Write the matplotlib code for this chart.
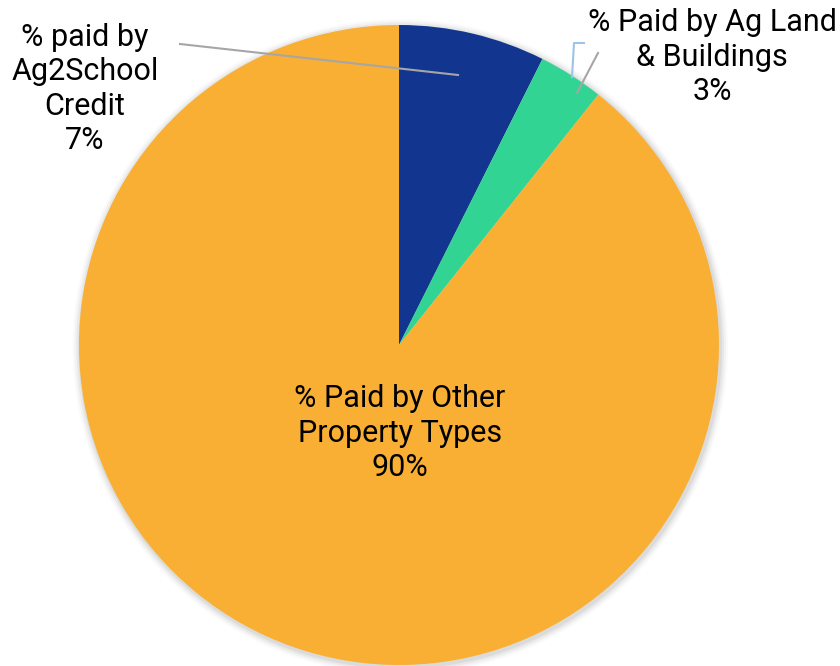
import matplotlib
matplotlib.use("Agg")
import matplotlib.pyplot as plt

categories = ["% paid by\nAg2School\nCredit", "% Paid by Ag Land\n& Buildings", "% Paid by Other\nProperty Types"]
values = [7.4, 3.3, 89.3]
pct_labels = ["7%", "3%", "90%"]
colors = ["#12368F", "#31D492", "#F9AF34"]

plt.rcParams['font.family'] = ['Roboto', 'DejaVu Sans']

fig = plt.figure(figsize=(8.4, 6.66), dpi=100)
W, H = 840, 666
cx, cy, R = 399, 345, 320
ax = fig.add_axes([(cx - R) / W, (H - cy - R) / H, 2 * R / W, 2 * R / H])

wedges, _ = ax.pie(values, colors=colors, startangle=90, counterclock=False,
                   radius=1, wedgeprops=dict(linewidth=0))
for w in wedges:
    w.set_zorder(1)

ax.set_xlim(-1, 1)
ax.set_ylim(-1, 1)
ax.set_aspect('equal')
ax.axis('off')

# soft shadow
for i, a in enumerate([0.05, 0.04, 0.03, 0.02]):
    c = plt.Circle((0.004, -0.006), 1 + 0.006 * (i + 1), color='black', alpha=a, lw=0,
                   zorder=0, clip_on=False)
    ax.add_patch(c)

def d(px, py):
    return ((px - cx) / R, (cy - py) / R)

fs = 22
ls = 1.22
x, y = d(85, 89)
ax.text(x, y, categories[0] + "\n" + pct_labels[0], ha='center', va='center', fontsize=fs,
        linespacing=ls, clip_on=False)
x, y = d(712, 57)
ax.text(x, y, categories[1] + "\n" + pct_labels[1], ha='center', va='center', fontsize=fs,
        linespacing=ls, clip_on=False)
x, y = d(400, 433)
ax.text(x, y, categories[2] + "\n" + pct_labels[2], ha='center', va='center', fontsize=fs,
        linespacing=ls, clip_on=False)

# leader lines
p1, p2 = d(180, 44), d(458, 75)
ax.plot([p1[0], p2[0]], [p1[1], p2[1]], color='#A6A6A6', lw=1.5, clip_on=False, zorder=3)
p1, p2 = d(598, 53), d(577, 93)
ax.plot([p1[0], p2[0]], [p1[1], p2[1]], color='#A6A6A6', lw=1.5, clip_on=False, zorder=3)
b = [d(584, 43), d(574, 43), d(572, 77)]
ax.plot([p[0] for p in b], [p[1] for p in b], color='#9DC3E6', lw=1.5, clip_on=False, zorder=3)

fig.savefig("out.png", dpi=100)
